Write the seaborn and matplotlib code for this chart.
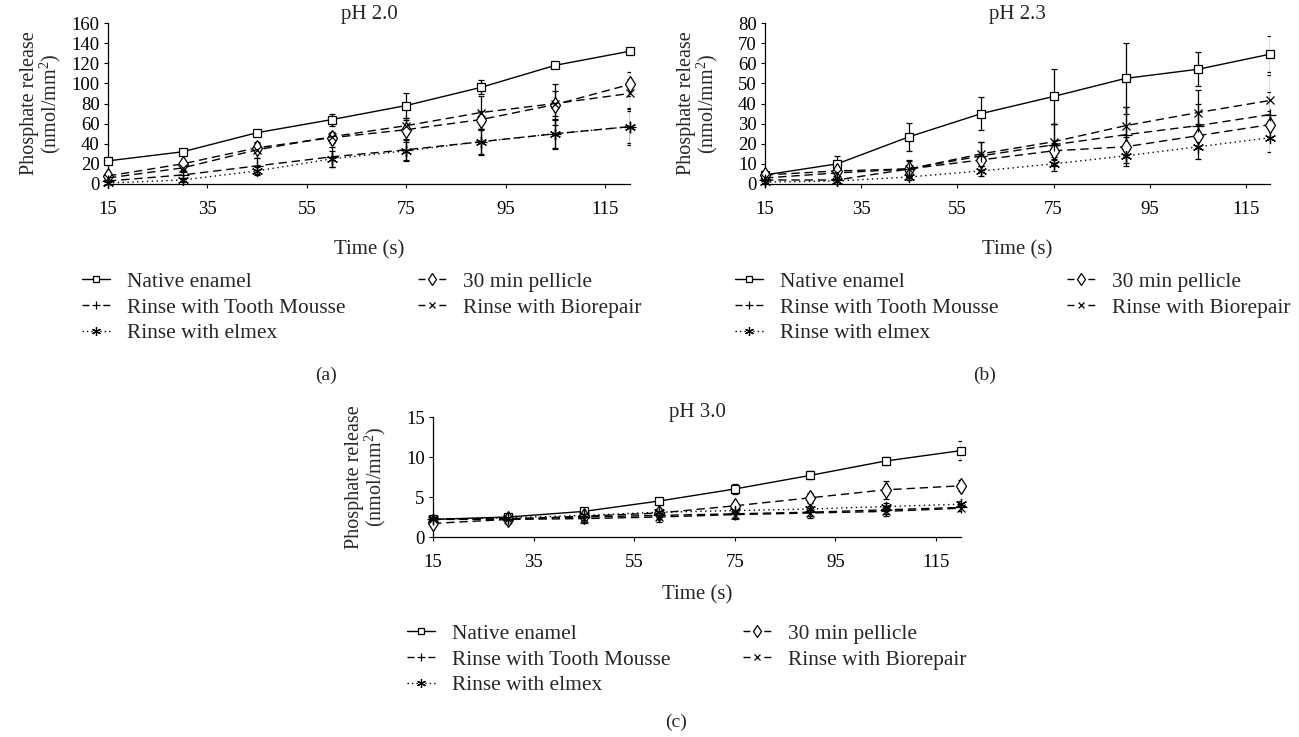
import numpy as np
import pandas as pd
import matplotlib
matplotlib.use("Agg")
import matplotlib.pyplot as plt
from matplotlib.lines import Line2D
import seaborn as sns

# ---------------- data ----------------
times = [15, 30, 45, 60, 75, 90, 105, 120]
series_names = ["Native enamel", "30 min pellicle", "Rinse with Tooth Mousse",
                "Rinse with Biorepair", "Rinse with elmex"]

# pH 2.0
ph20_native = [23, 32, 51, 64, 78, 96, 118, 132]
ph20_native_err = [1.5, 2, 2, 6, 12, 7, 2, 2]
ph20_pellicle = [8, 20, 36, 46, 54, 64, 79, 99]
ph20_pellicle_err = [1, 2, 5, 5, 10, 9, 20, 12]
ph20_mousse = [3, 9, 18, 27, 34, 42, 50, 57]
ph20_mousse_err = [1, 3, 8, 10, 11, 13, 15, 18]
ph20_biorepair = [6, 16, 34, 47, 58, 71, 80, 90]
ph20_biorepair_err = [1, 3, 8, 5, 8, 16, 12, 14]
ph20_elmex = [1, 4, 13, 25, 33, 42, 50, 57]
ph20_elmex_err = [1, 2, 4, 8, 9, 12, 14, 16]

# pH 2.3
ph23_native = [4.5, 10, 23.5, 35, 43.5, 52.5, 57, 64.5]
ph23_native_err = [1, 4, 7, 8, 13.5, 17.5, 8.5, 9]
ph23_pellicle = [4.5, 6.5, 7.5, 12, 16.5, 18.5, 24, 29.5]
ph23_pellicle_err = [1, 1, 2, 3, 4, 5, 6, 7]
ph23_mousse = [2, 2, 7.5, 14, 19.5, 24.5, 29, 34.5]
ph23_mousse_err = [1, 1, 4.5, 7, 10.5, 14, 11, 11]
ph23_biorepair = [3, 5.5, 7.5, 15, 21, 29, 35.5, 41.5]
ph23_biorepair_err = [1, 2, 4, 6, 9, 9.5, 11, 12.5]
ph23_elmex = [1, 1.5, 3.5, 6.5, 10, 14, 18.5, 23]
ph23_elmex_err = [0.5, 0.5, 1.5, 2.5, 3.5, 5, 6, 7]

# pH 3.0
ph30_native = [2.2, 2.5, 3.2, 4.5, 6.0, 7.7, 9.5, 10.8]
ph30_native_err = [0.2, 0.3, 0.3, 0.3, 0.6, 0.5, 0.5, 1.2]
ph30_pellicle = [1.7, 2.2, 2.6, 3.0, 3.9, 4.9, 5.9, 6.4]
ph30_pellicle_err = [0.3, 0.5, 0.5, 0.5, 0.4, 0.6, 1.1, 0.7]
ph30_mousse = [2.2, 2.3, 2.5, 2.7, 2.9, 3.1, 3.4, 3.7]
ph30_mousse_err = [0.2, 0.4, 0.5, 0.5, 0.5, 0.5, 0.5, 0.4]
ph30_biorepair = [2.2, 2.2, 2.3, 2.5, 2.8, 3.0, 3.2, 3.6]
ph30_biorepair_err = [0.2, 0.6, 0.6, 0.6, 0.5, 0.6, 0.6, 0.4]
ph30_elmex = [2.2, 2.4, 2.7, 3.1, 3.3, 3.5, 3.8, 4.1]
ph30_elmex_err = [0.2, 0.3, 0.4, 0.4, 0.4, 0.4, 0.4, 0.4]

x_ticks = [15, 35, 55, 75, 95, 115]
titles = ["pH 2.0", "pH 2.3", "pH 3.0"]
panel_letters = ["(a)", "(b)", "(c)"]

# ---------------- style ----------------
sns.set_style("ticks")
plt.rcParams["font.family"] = ["Liberation Serif", "DejaVu Serif"]
plt.rcParams["mathtext.fontset"] = "custom"
plt.rcParams["mathtext.rm"] = "Liberation Serif"
plt.rcParams["mathtext.default"] = "regular"

W, H = 1299, 737
fig = plt.figure(figsize=(W / 100, H / 100), dpi=100)

def px_axes(l, t, r, b):
    return fig.add_axes([l / W, 1 - b / H, (r - l) / W, (b - t) / H])

DASH = (0, (6, 3.5))
LEG_DASH = (0, (5, 10))
LEG_DOT = (0, (1, 2.2))
styles = {
    "Native enamel": dict(ls="-", leg_ls="-", marker="s", ms=6),
    "30 min pellicle": dict(ls=DASH, leg_ls=LEG_DASH, marker="d", ms=8),
    "Rinse with Tooth Mousse": dict(ls=DASH, leg_ls=LEG_DASH, marker="+", ms=8),
    "Rinse with Biorepair": dict(ls=DASH, leg_ls=LEG_DASH, marker="x", ms=6),
    "Rinse with elmex": dict(ls=(0, (1, 2.5)), leg_ls=LEG_DOT, marker=(6, 2, 0), ms=8),
}

panels = [
    dict(box=(108, 23, 630, 184), ylim=(0, 160), yticks=np.arange(0, 161, 20),
         data=[(ph20_native, ph20_native_err), (ph20_pellicle, ph20_pellicle_err),
               (ph20_mousse, ph20_mousse_err), (ph20_biorepair, ph20_biorepair_err),
               (ph20_elmex, ph20_elmex_err)],
         ylab_x=63, xlab_top=240, title_y=15, leg=(82, 272), colsp=3.4,
         letter=(326, 375)),
    dict(box=(765, 23, 1270, 184), ylim=(0, 80), yticks=np.arange(0, 81, 10),
         data=[(ph23_native, ph23_native_err), (ph23_pellicle, ph23_pellicle_err),
               (ph23_mousse, ph23_mousse_err), (ph23_biorepair, ph23_biorepair_err),
               (ph23_elmex, ph23_elmex_err)],
         ylab_x=720, xlab_top=240, title_y=15, leg=(735, 272), colsp=3.2,
         letter=(985, 375)),
    dict(box=(433, 417, 961, 537), ylim=(0, 15), yticks=np.arange(0, 16, 5),
         data=[(ph30_native, ph30_native_err), (ph30_pellicle, ph30_pellicle_err),
               (ph30_mousse, ph30_mousse_err), (ph30_biorepair, ph30_biorepair_err),
               (ph30_elmex, ph30_elmex_err)],
         ylab_x=388, xlab_top=585, title_y=412, leg=(407, 624), colsp=3.4,
         letter=(676, 722)),
]

order = ["Native enamel", "Rinse with Tooth Mousse", "Rinse with elmex",
         "30 min pellicle", "Rinse with Biorepair"]

for i, p in enumerate(panels):
    ax = px_axes(*p["box"])
    l, t, r, b = p["box"]
    for name, (vals, errs) in zip(series_names, p["data"]):
        st = styles[name]
        df = pd.DataFrame({"Time (s)": times, "value": vals})
        sns.lineplot(data=df, x="Time (s)", y="value", ax=ax, color="black",
                     linestyle=st["ls"], linewidth=1.0, marker=st["marker"],
                     markersize=st["ms"], markerfacecolor="white",
                     markeredgecolor="black", markeredgewidth=0.9,
                     label=name, legend=False, zorder=3, clip_on=False)
        ax.errorbar(times, vals, yerr=errs, fmt="none", ecolor="black",
                    elinewidth=0.9, capsize=2.3, capthick=0.9, zorder=2)
    ax.set_xlim(15, 120)
    ax.set_ylim(*p["ylim"])
    ax.set_xticks(x_ticks)
    ax.set_yticks(p["yticks"])
    ax.tick_params(axis="both", direction="out", length=3, width=0.8,
                   labelsize=13.5, colors="black")
    ax.tick_params(axis="x", pad=9)
    ax.tick_params(axis="y", pad=3)
    for s in ["left", "bottom"]:
        ax.spines[s].set_linewidth(0.9)
        ax.spines[s].set_color("black")
    sns.despine(ax=ax)
    ax.set_xlabel("Time (s)", fontsize=15)
    ax.xaxis.set_label_coords(0.5, (b - p["xlab_top"]) / (b - t))
    ax.set_ylabel("Phosphate release\n(nmol/mm$^2$)", fontsize=14.5,
                  linespacing=0.95)
    ax.yaxis.set_label_coords((p["ylab_x"] - l) / (r - l), 0.5)
    fig.text((l + r) / 2 / W, 1 - p["title_y"] / H, titles[i],
             ha="center", va="center", fontsize=15)

    leg_handles = [Line2D([], [], color="black", linestyle=styles[n]["leg_ls"],
                          linewidth=1.0, marker=styles[n]["marker"],
                          markersize=styles[n]["ms"] * 0.8,
                          markerfacecolor="white", markeredgecolor="black",
                          markeredgewidth=0.9) for n in order]
    lx, ly = p["leg"]
    fig.legend(leg_handles, order, loc="upper left",
               bbox_to_anchor=(lx / W, 1 - ly / H), ncol=2, frameon=False,
               fontsize=15.4, handlelength=1.3, handletextpad=0.8,
               columnspacing=p["colsp"], labelspacing=0.26, borderpad=0,
               borderaxespad=0)
    fig.text(p["letter"][0] / W, 1 - p["letter"][1] / H, panel_letters[i],
             ha="center", va="center", fontsize=14)

fig.savefig("out.png", dpi=100)
